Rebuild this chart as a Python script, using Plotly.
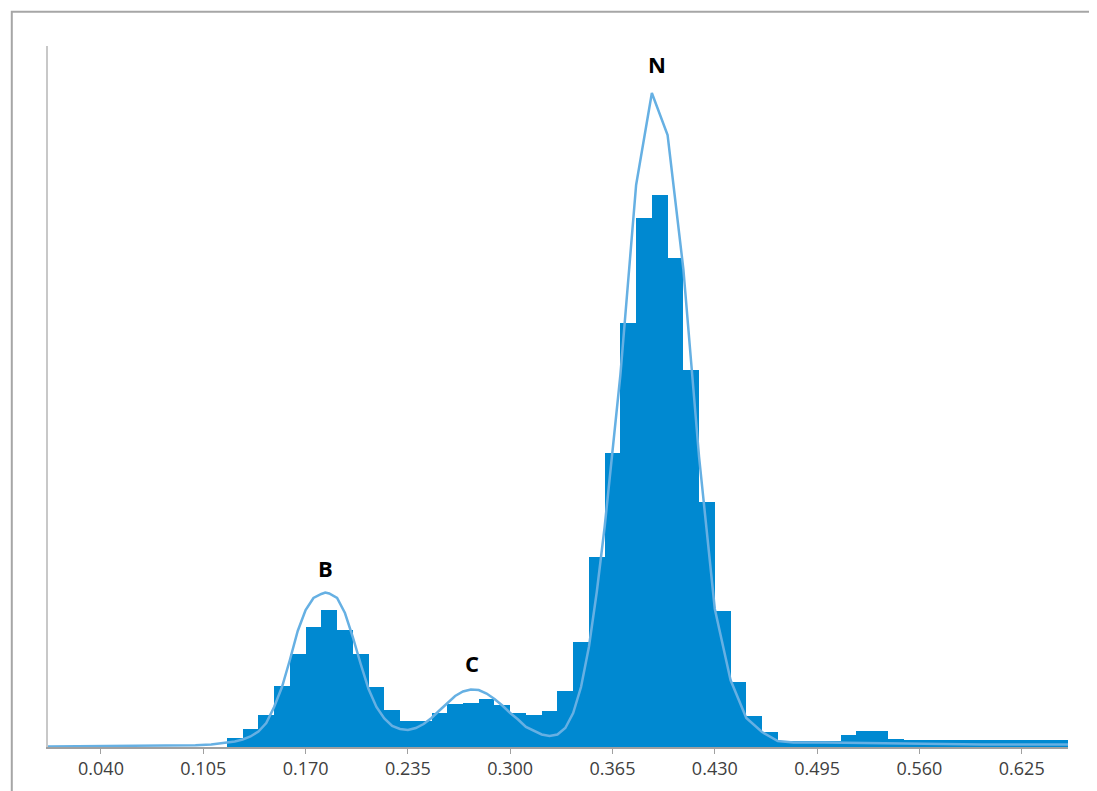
import plotly.graph_objects as go

# ---------------- data ----------------
bin_width = 0.01
bin_left = [round(0.12 + 0.01 * i, 2) for i in range(54)]
bin_counts = [
    9.5, 18.5, 32.5, 61, 93, 120, 137, 117, 93, 60,
    37, 26, 26, 34.5, 43.5, 44, 48.5, 42, 34.5, 32,
    36, 56, 105, 190, 294, 424, 529, 552, 489, 377,
    245, 136, 65, 31, 15, 6, 6, 6, 6, 12.5,
    16, 16, 8.5, 7.5, 7, 7, 7, 7, 7, 7,
    7, 7, 7, 7,
]

curve_x = [
    0.005, 0.05, 0.10, 0.11, 0.12, 0.125, 0.13, 0.135, 0.14, 0.145,
    0.15, 0.155, 0.16, 0.165, 0.17, 0.175, 0.18, 0.1825, 0.185, 0.19, 0.195,
    0.20, 0.205, 0.21, 0.215, 0.22, 0.225, 0.23, 0.235, 0.24, 0.245,
    0.25, 0.255, 0.26, 0.265, 0.27, 0.275, 0.28, 0.285, 0.29, 0.295,
    0.30, 0.305, 0.31, 0.315, 0.32, 0.325, 0.33, 0.335, 0.34, 0.345,
    0.35, 0.355, 0.36, 0.37, 0.38, 0.39, 0.40, 0.41, 0.42, 0.43,
    0.44, 0.45, 0.46, 0.47, 0.48, 0.50, 0.53, 0.56, 0.60, 0.66,
]
curve_y = [
    0.5, 0.8, 1.8, 2.5, 4, 5.5, 7.5, 10.5, 15.5, 24,
    40, 60, 87, 116, 137, 149, 153, 154.5, 153.5, 149, 134,
    110, 83, 58, 40, 28.5, 21, 18, 17, 19, 23,
    29, 36.5, 44, 51, 55.5, 57.5, 57, 53.5, 48, 41.5,
    34, 27.5, 20, 16.5, 12.5, 11, 12.5, 19, 34, 60,
    100, 155, 220, 372, 562, 654, 612, 478, 290, 138,
    67, 29, 15, 6, 4.5, 4.5, 4, 3, 2.5, 2.5,
]

tick_values = [0.040, 0.105, 0.170, 0.235, 0.300, 0.365, 0.430, 0.495, 0.560, 0.625]
tick_labels = ["0.040", "0.105", "0.170", "0.235", "0.300", "0.365", "0.430", "0.495", "0.560", "0.625"]

peak_names = ["B", "C", "N"]
peak_x = [0.1828, 0.2759, 0.3930]
peak_y = [179, 84, 683]

# ---------------- figure ----------------
bar_color = "#0089D1"
curve_color = "#66B0E3"

fig = go.Figure()
fig.add_trace(go.Bar(
    x=[b + bin_width / 2 for b in bin_left],
    y=bin_counts,
    width=bin_width,
    marker=dict(color=bar_color, line=dict(width=0)),
    hoverinfo="skip",
))
fig.add_trace(go.Scatter(
    x=curve_x,
    y=curve_y,
    mode="lines",
    line=dict(color=curve_color, width=2.5, shape="linear"),
    hoverinfo="skip",
))

for name, px_, py_ in zip(peak_names, peak_x, peak_y):
    fig.add_annotation(
        x=px_, y=py_, text=name, showarrow=False,
        font=dict(family="Open Sans", size=22, color="#000000", weight="bold"),
        xanchor="center", yanchor="middle",
    )

# outer frame (extends past right and bottom edges)
fig.add_shape(
    type="rect", xref="paper", yref="paper",
    x0=-0.0355, x1=1.3, y0=-0.3, y1=1.0488,
    line=dict(color="#A6A6A6", width=2), fillcolor="rgba(0,0,0,0)",
    layer="above",
)

fig.update_layout(
    width=1089, height=783,
    margin=dict(l=40, r=29, t=38, b=44),
    paper_bgcolor="white", plot_bgcolor="white",
    showlegend=False,
    bargap=0,
    xaxis=dict(
        range=[0.00633, 0.6544],
        tickvals=tick_values, ticktext=tick_labels,
        showgrid=False, zeroline=False,
        showline=True, linecolor="#A0A0A0", linewidth=1.5,
        ticks="outside", ticklen=5, tickcolor="#A0A0A0", tickwidth=1,
        tickfont=dict(family="Open Sans", size=18, color="#404040"),
    ),
    yaxis=dict(
        range=[0, 701],
        showgrid=False, zeroline=False,
        showline=True, linecolor="#C8C8C8", linewidth=2,
        showticklabels=False, ticks="",
    ),
)

fig.write_html("out.html", config={"displayModeBar": False})
